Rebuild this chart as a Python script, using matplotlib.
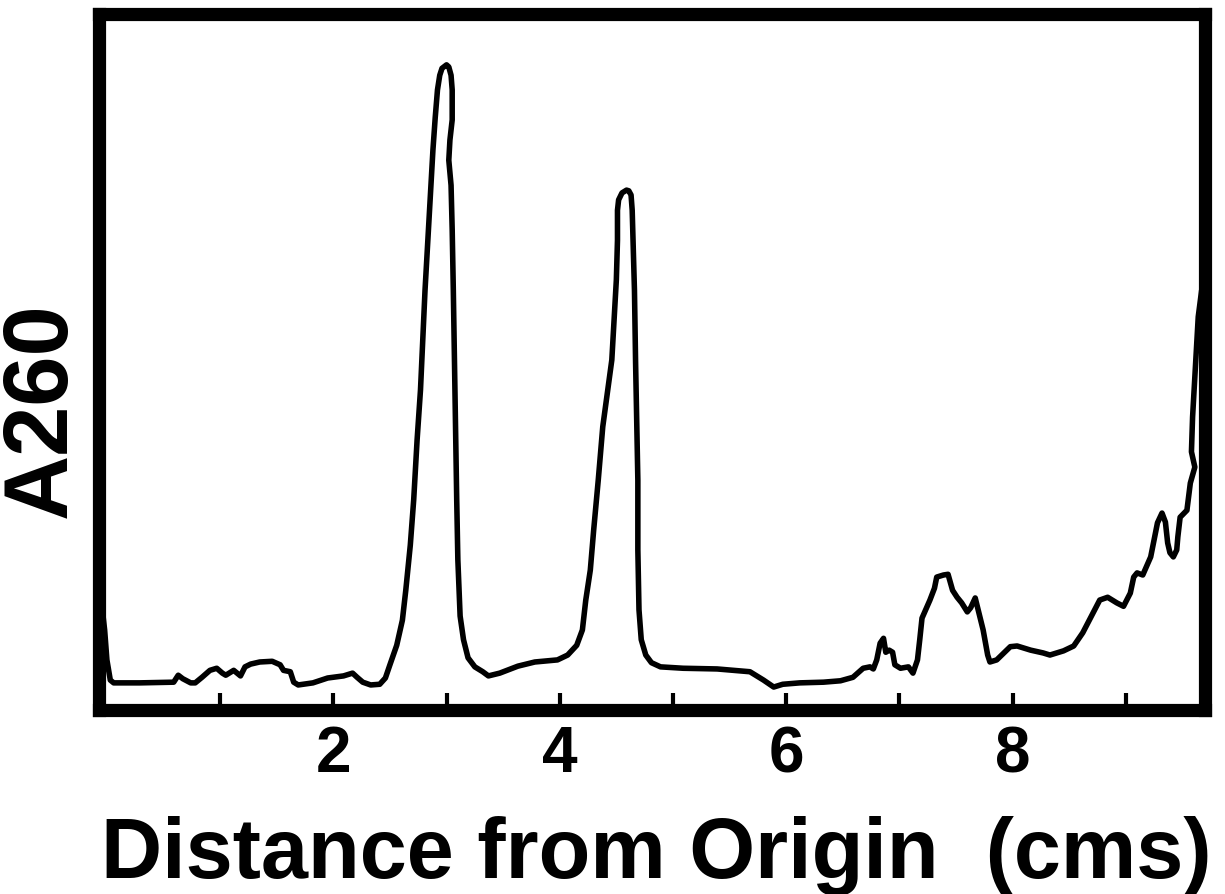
import matplotlib.pyplot as plt

# distance from origin (cm) and A260 trace
distance_cm = [
    -0.05, -0.02, 0.00, 0.03, 0.06, 0.29, 0.59, 0.63, 0.67, 0.74, 0.78, 0.84,
    0.91, 0.97, 1.02, 1.05, 1.12, 1.18, 1.22, 1.27, 1.35, 1.46, 1.53, 1.56,
    1.62, 1.65, 1.69, 1.82, 1.95, 2.09, 2.17, 2.21, 2.26, 2.33, 2.41, 2.46,
    # first peak
    2.50, 2.56, 2.61, 2.64, 2.68, 2.71, 2.74, 2.77, 2.79, 2.81, 2.84, 2.86,
    2.88, 2.90, 2.92, 2.94, 2.96, 3.00, 3.02, 3.04, 3.05, 3.05, 3.03, 3.02,
    3.04, 3.05, 3.06, 3.07, 3.08, 3.09, 3.10, 3.12, 3.15, 3.19, 3.25, 3.32,
    3.37, 3.47, 3.63, 3.78, 3.98,
    # second peak
    4.07, 4.15, 4.20, 4.23, 4.27, 4.30, 4.34, 4.38, 4.42, 4.46, 4.48, 4.50,
    4.51, 4.51, 4.52, 4.55, 4.59, 4.61, 4.63, 4.64, 4.65, 4.66, 4.67, 4.68,
    4.69, 4.69, 4.70, 4.72, 4.76, 4.81, 4.89,
    # flat stretch and the region past 6 cm
    5.09, 5.39, 5.68, 5.80, 5.89, 5.97, 6.12, 6.33, 6.48, 6.59, 6.68, 6.74,
    6.77, 6.80, 6.83, 6.86, 6.88, 6.91, 6.94, 6.96, 7.01, 7.08, 7.12, 7.16,
    7.18, 7.20, 7.24, 7.27, 7.31, 7.33, 7.39, 7.43, 7.47, 7.51, 7.55, 7.60,
    7.63, 7.67, 7.70, 7.74, 7.78, 7.80, 7.86, 7.98, 8.04, 8.16, 8.27, 8.33,
    8.45, 8.54, 8.62, 8.70, 8.77, 8.84, 8.92, 8.98, 9.04, 9.07, 9.10, 9.15,
    9.22, 9.28, 9.32, 9.35, 9.37, 9.39, 9.42, 9.45, 9.46, 9.48, 9.54, 9.57,
    9.61, 9.58, 9.59, 9.61, 9.64, 9.67,
]
a260 = [
    0.158, 0.115, 0.072, 0.043, 0.039, 0.039, 0.040, 0.050, 0.045, 0.039, 0.039, 0.047,
    0.057, 0.060, 0.053, 0.050, 0.057, 0.049, 0.062, 0.066, 0.069, 0.070, 0.065, 0.057,
    0.055, 0.040, 0.036, 0.039, 0.046, 0.049, 0.053, 0.047, 0.040, 0.036, 0.037, 0.046,
    0.065, 0.093, 0.129, 0.172, 0.237, 0.302, 0.388, 0.460, 0.532, 0.603, 0.690, 0.747,
    0.805, 0.851, 0.891, 0.912, 0.922, 0.927, 0.924, 0.912, 0.891, 0.848, 0.819, 0.790,
    0.754, 0.690, 0.603, 0.503, 0.402, 0.302, 0.216, 0.135, 0.101, 0.075, 0.062, 0.055,
    0.049, 0.053, 0.063, 0.069, 0.072,
    0.079, 0.093, 0.115, 0.158, 0.201, 0.259, 0.330, 0.407, 0.455, 0.503, 0.560, 0.618,
    0.675, 0.718, 0.733, 0.743, 0.747, 0.746, 0.740, 0.718, 0.661, 0.603, 0.499, 0.417,
    0.330, 0.230, 0.144, 0.101, 0.079, 0.068, 0.062,
    0.060, 0.059, 0.055, 0.043, 0.033, 0.037, 0.039, 0.040, 0.042, 0.047, 0.060, 0.062,
    0.059, 0.072, 0.096, 0.103, 0.083, 0.086, 0.083, 0.065, 0.060, 0.062, 0.053, 0.072,
    0.101, 0.132, 0.147, 0.158, 0.175, 0.191, 0.194, 0.195, 0.172, 0.162, 0.154, 0.141,
    0.147, 0.161, 0.141, 0.115, 0.079, 0.069, 0.072, 0.091, 0.092, 0.086, 0.082, 0.079,
    0.085, 0.092, 0.111, 0.136, 0.158, 0.162, 0.154, 0.149, 0.168, 0.191, 0.197, 0.194,
    0.220, 0.269, 0.283, 0.270, 0.240, 0.226, 0.220, 0.230, 0.249, 0.277, 0.287, 0.326,
    0.349, 0.371, 0.421, 0.478, 0.565, 0.603,
]

tick_positions = [1, 2, 3, 4, 5, 6, 7, 8, 9]
tick_labels = ['', '2', '', '4', '', '6', '', '8', '']

plt.rcParams['font.family'] = ['Liberation Sans', 'DejaVu Sans']
plt.rcParams['font.weight'] = 'bold'

fig = plt.figure(figsize=(12.25, 8.94), dpi=100)
ax = fig.add_axes([0.0808, 0.2058, 0.9029, 0.7785])

ax.plot(distance_cm, a260, color='black', lw=4,
        solid_joinstyle='round', solid_capstyle='round')

ax.set_xlim(-0.07, 9.70)
ax.set_ylim(0, 1.0)

# heavy frame all round
for side in ax.spines.values():
    side.set_linewidth(9.5)
    side.set_color('black')

ax.set_yticks([])
ax.set_xticks(tick_positions)
ax.set_xticklabels(tick_labels)
ax.tick_params(axis='x', direction='in', length=12, width=3, pad=11,
               labelsize=46, colors='black')

fig.text(42 / 1225, 1 - 410 / 894, 'A260', rotation=90, ha='center',
         va='center', fontsize=65, fontweight='bold')
fig.text(656 / 1225, (894 - 878) / 894, 'Distance from Origin  (cms)',
         ha='center', va='baseline', fontsize=61, fontweight='bold')

fig.savefig('out.png', dpi=100)
